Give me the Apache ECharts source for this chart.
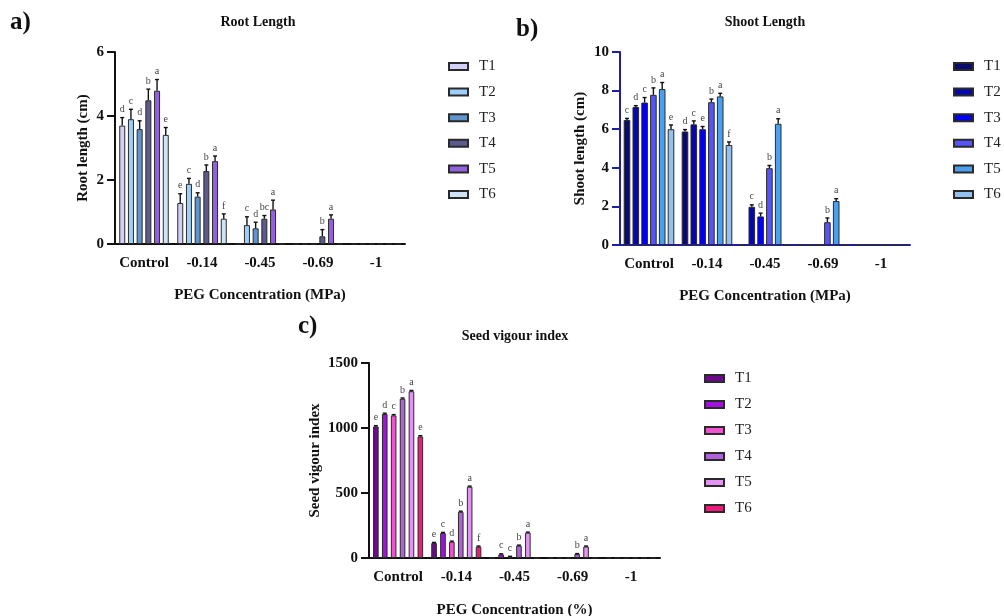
<!DOCTYPE html>
<html><head><meta charset="utf-8">
<script src="https://cdn.jsdelivr.net/npm/echarts@6/dist/echarts.min.js"></script>
<style>html,body{margin:0;padding:0;background:#fff}#c{width:1004px;height:616px}</style>
</head><body><div id="c"></div>
<script>
const categories = ['Control', '-0.14', '-0.45', '-0.69', '-1'];
const treatments = ['T1', 'T2', 'T3', 'T4', 'T5', 'T6'];

// a) Root length (cm): means, errors, letters
const rootT1 = [3.70, 1.28, 0, 0, 0];
const rootT2 = [3.90, 1.88, 0.59, 0, 0];
const rootT3 = [3.59, 1.48, 0.49, 0, 0];
const rootT4 = [4.49, 2.28, 0.79, 0.24, 0];
const rootT5 = [4.79, 2.59, 1.08, 0.79, 0];
const rootT6 = [3.41, 0.79, 0, 0, 0];
const rootErrT1 = [0.25, 0.29, 0, 0, 0];
const rootErrT2 = [0.31, 0.17, 0.26, 0, 0];
const rootErrT3 = [0.26, 0.12, 0.19, 0, 0];
const rootErrT4 = [0.35, 0.19, 0.10, 0.21, 0];
const rootErrT5 = [0.35, 0.16, 0.29, 0.12, 0];
const rootErrT6 = [0.23, 0.15, 0, 0, 0];
const rootLetT1 = ['d', 'e', '', '', ''];
const rootLetT2 = ['c', 'c', 'c', '', ''];
const rootLetT3 = ['d', 'd', 'd', '', ''];
const rootLetT4 = ['b', 'b', 'bc', 'b', ''];
const rootLetT5 = ['a', 'a', 'a', 'a', ''];
const rootLetT6 = ['e', 'f', '', '', ''];

// b) Shoot length (cm)
const shootT1 = [6.48, 5.88, 0, 0, 0];
const shootT2 = [7.15, 6.25, 1.98, 0, 0];
const shootT3 = [7.38, 6.00, 1.48, 0, 0];
const shootT4 = [7.78, 7.40, 3.98, 1.18, 0];
const shootT5 = [8.08, 7.70, 6.28, 2.28, 0];
const shootT6 = [6.00, 5.18, 0, 0, 0];
const shootErrT1 = [0.08, 0.10, 0, 0, 0];
const shootErrT2 = [0.07, 0.18, 0.10, 0, 0];
const shootErrT3 = [0.26, 0.14, 0.17, 0, 0];
const shootErrT4 = [0.36, 0.16, 0.14, 0.22, 0];
const shootErrT5 = [0.34, 0.16, 0.26, 0.12, 0];
const shootErrT6 = [0.22, 0.16, 0, 0, 0];
const shootLetT1 = ['c', 'd', '', '', ''];
const shootLetT2 = ['d', 'c', 'c', '', ''];
const shootLetT3 = ['c', 'e', 'd', '', ''];
const shootLetT4 = ['b', 'b', 'b', 'b', ''];
const shootLetT5 = ['a', 'a', 'a', 'a', ''];
const shootLetT6 = ['e', 'f', '', '', ''];

// c) Seed vigour index
const vigT1 = [1012, 115, 0, 0, 0];
const vigT2 = [1108, 192, 28, 0, 0];
const vigT3 = [1097, 125, 10, 0, 0];
const vigT4 = [1225, 355, 95, 30, 0];
const vigT5 = [1283, 548, 195, 88, 0];
const vigT6 = [935, 87, 0, 0, 0];
const vigErrT1 = [6, 5, 0, 0, 0];
const vigErrT2 = [6, 5, 4, 0, 0];
const vigErrT3 = [6, 5, 3, 0, 0];
const vigErrT4 = [6, 5, 4, 4, 0];
const vigErrT5 = [6, 5, 4, 4, 0];
const vigErrT6 = [6, 5, 0, 0, 0];
const vigLetT1 = ['e', 'e', '', '', ''];
const vigLetT2 = ['d', 'c', 'c', '', ''];
const vigLetT3 = ['c', 'd', 'c', '', ''];
const vigLetT4 = ['b', 'b', 'b', 'b', ''];
const vigLetT5 = ['a', 'a', 'a', 'a', ''];
const vigLetT6 = ['e', 'f', '', '', ''];

const SERIF = '"Liberation Serif", "DejaVu Serif", serif';

const panels = [
  { key: 'a', means: [rootT1, rootT2, rootT3, rootT4, rootT5, rootT6],
    errs: [rootErrT1, rootErrT2, rootErrT3, rootErrT4, rootErrT5, rootErrT6],
    lets: [rootLetT1, rootLetT2, rootLetT3, rootLetT4, rootLetT5, rootLetT6],
    colors: ['#d3d0f6', '#9fcff8', '#5f95cb', '#5b5b8d', '#9261dc', '#cfe3f7'],
    barW: 6, gap: 2.7, axisColor: '#111' },
  { key: 'b', means: [shootT1, shootT2, shootT3, shootT4, shootT5, shootT6],
    errs: [shootErrT1, shootErrT2, shootErrT3, shootErrT4, shootErrT5, shootErrT6],
    lets: [shootLetT1, shootLetT2, shootLetT3, shootLetT4, shootLetT5, shootLetT6],
    colors: ['#0b0b6e', '#0707b0', '#0000f8', '#5555fa', '#4aa0ef', '#92c0ef'],
    barW: 6.6, gap: 2.2, axisColor: '#1f1fa0' },
  { key: 'c', means: [vigT1, vigT2, vigT3, vigT4, vigT5, vigT6],
    errs: [vigErrT1, vigErrT2, vigErrT3, vigErrT4, vigErrT5, vigErrT6],
    lets: [vigLetT1, vigLetT2, vigLetT3, vigLetT4, vigLetT5, vigLetT6],
    colors: ['#6b0b8b', '#a112df', '#f152cf', '#b062d6', '#e393f2', '#f01a7c'],
    barW: 5.6, gap: 3.3, axisColor: '#111' }
];

function errSeries(p, pi, ti) {
  const pitch = p.barW + p.gap;
  const off = (ti - 2.5) * pitch;
  const letters = p.lets[ti];
  return {
    type: 'custom', xAxisIndex: pi, yAxisIndex: pi, z: 5, silent: true,
    data: p.means[ti].map((m, i) => [i, m, p.errs[ti][i]]),
    renderItem: function (params, api) {
      const m = api.value(1), e = api.value(2);
      if (!m) return null;
      const b = api.coord([api.value(0), m]);
      const t = api.coord([api.value(0), m + e]);
      const x = b[0] + off;
      return { type: 'group', children: [
        { type: 'line', shape: { x1: x, y1: b[1], x2: x, y2: t[1] }, style: { stroke: '#111', lineWidth: 1.4 } },
        { type: 'line', shape: { x1: x - 2, y1: t[1], x2: x + 2, y2: t[1] }, style: { stroke: '#111', lineWidth: 1.4 } },
        { type: 'text', x: x, y: t[1] - 3, style: { text: letters[params.dataIndex], fill: '#444',
          fontSize: 10, fontFamily: SERIF, align: 'center', verticalAlign: 'bottom' } }
      ] };
    }
  };
}

const grids = [
  { left: 115, top: 52, width: 290, height: 192, outerBoundsMode: 'none' },
  { left: 620, top: 52, width: 290, height: 193, outerBoundsMode: 'none' },
  { left: 369, top: 363, width: 291, height: 195, outerBoundsMode: 'none' }
];
const yMax = [6, 10, 1500], yInt = [2, 2, 500];
const yNames = ['Root length (cm)', 'Shoot length (cm)', 'Seed vigour index'];
const yNameGaps = [24, 32, 46];
const xNames = ['PEG Concentration (MPa)', 'PEG Concentration (MPa)', 'PEG Concentration (%)'];
const xNameGaps = [44, 44, 45];

const series = [];
panels.forEach((p, pi) => {
  treatments.forEach((t, ti) => {
    series.push({
      type: 'bar', name: p.key + ':' + t, xAxisIndex: pi, yAxisIndex: pi,
      data: p.means[ti], barWidth: p.barW, barGap: (p.gap / p.barW * 100) + '%',
      itemStyle: { color: p.colors[ti], borderColor: '#2a2a2a', borderWidth: 1 },
      emphasis: { disabled: true }
    });
  });
});
panels.forEach((p, pi) => treatments.forEach((t, ti) => series.push(errSeries(p, pi, ti))));

const axisFontBold = { fontFamily: SERIF, fontWeight: 'bold', fontSize: 15, color: '#111' };

const option = {
  animation: false,
  backgroundColor: '#fff',
  title: [
    { text: 'a)', left: 10, top: 10, padding: 0, textStyle: { fontFamily: SERIF, fontWeight: 'bold', fontSize: 25, color: '#111' } },
    { text: 'b)', left: 516, top: 17, padding: 0, textStyle: { fontFamily: SERIF, fontWeight: 'bold', fontSize: 25, color: '#111' } },
    { text: 'c)', left: 298, top: 314, padding: 0, textStyle: { fontFamily: SERIF, fontWeight: 'bold', fontSize: 25, color: '#111' } },
    { text: 'Root Length', left: 258, top: 15, padding: 0, textAlign: 'center', textStyle: { fontFamily: SERIF, fontWeight: 'bold', fontSize: 14, color: '#111' } },
    { text: 'Shoot Length', left: 765, top: 15, padding: 0, textAlign: 'center', textStyle: { fontFamily: SERIF, fontWeight: 'bold', fontSize: 14, color: '#111' } },
    { text: 'Seed vigour index', left: 515, top: 329, padding: 0, textAlign: 'center', textStyle: { fontFamily: SERIF, fontWeight: 'bold', fontSize: 14, color: '#111' } }
  ],
  legend: panels.map((p, pi) => ({
    orient: 'vertical', left: [448, 953, 704][pi], top: [59, 59, 371][pi], padding: 0,
    itemWidth: 19, itemHeight: 7, itemGap: [10.6, 10.6, 11][pi], icon: 'rect',
    data: treatments.map(t => p.key + ':' + t),
    formatter: n => n.split(':')[1],
    textStyle: { fontFamily: SERIF, fontSize: 15, color: '#222', padding: [0, 0, 0, 6] }
  })),
  grid: grids,
  xAxis: grids.map((g, i) => ({
    type: 'category', gridIndex: i, data: categories, boundaryGap: true,
    name: xNames[i], nameLocation: 'middle', nameGap: xNameGaps[i],
    nameTextStyle: axisFontBold,
    axisLine: { lineStyle: { color: panels[i].axisColor, width: 2 } },
    axisTick: { alignWithLabel: true, length: 6, lineStyle: { color: panels[i].axisColor, width: 2 } },
    axisLabel: Object.assign({ margin: 12, interval: 0 }, axisFontBold),
    splitLine: { show: false }
  })),
  yAxis: grids.map((g, i) => ({
    type: 'value', gridIndex: i, min: 0, max: yMax[i], interval: yInt[i],
    name: yNames[i], nameLocation: 'middle', nameGap: yNameGaps[i], nameRotate: 90,
    nameTextStyle: axisFontBold,
    axisLine: { show: true, lineStyle: { color: panels[i].axisColor, width: 2 } },
    axisTick: { show: true, length: 8, lineStyle: { color: panels[i].axisColor, width: 2 } },
    axisLabel: Object.assign({ margin: 11, formatter: v => String(v) }, axisFontBold),
    splitLine: { show: false }
  })),
  series: series
};

const chart = echarts.init(document.getElementById('c'), null, { renderer: 'canvas' });
chart.setOption(option);
</script></body></html>
